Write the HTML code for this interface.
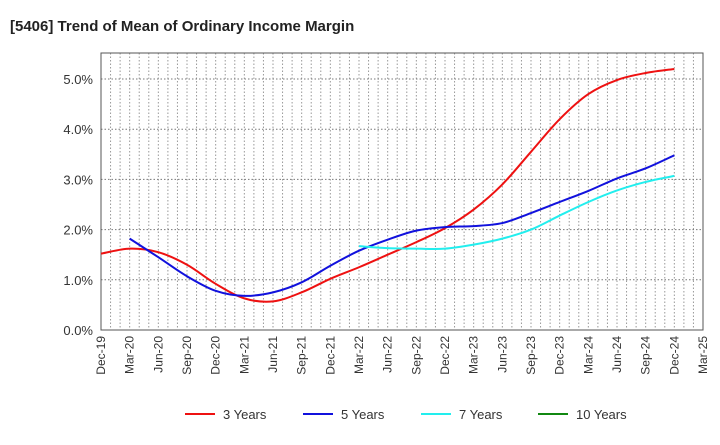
<!DOCTYPE html>
<html><head><meta charset="utf-8"><style>
body{margin:0;background:#fff;font-family:"Liberation Sans",sans-serif}
</style></head><body>
<svg id="c" width="720" height="440" font-family="Liberation Sans, sans-serif">
<text x="10" y="31" font-size="15" font-weight="bold" fill="#222">[5406]  Trend of Mean of Ordinary Income Margin</text>
<g id="grid"></g><g id="axes"></g><g id="series"></g><g id="legend"></g>
</svg>
<script>
const xLabels=["Dec-19","Mar-20","Jun-20","Sep-20","Dec-20","Mar-21","Jun-21","Sep-21","Dec-21","Mar-22","Jun-22","Sep-22","Dec-22","Mar-23","Jun-23","Sep-23","Dec-23","Mar-24","Jun-24","Sep-24","Dec-24","Mar-25"];
const yTicks=[0,1,2,3,4,5];
const s3=[1.52,1.62,1.55,1.3,0.92,0.63,0.57,0.75,1.02,1.25,1.5,1.75,2.03,2.4,2.9,3.55,4.2,4.7,4.98,5.12,5.2];
const s5=[null,1.82,1.45,1.07,0.78,0.68,0.75,0.95,1.28,1.58,1.8,1.98,2.05,2.07,2.13,2.33,2.55,2.77,3.02,3.22,3.48];
const s7=[null,null,null,null,null,null,null,null,null,1.67,1.63,1.62,1.62,1.70,1.82,2.0,2.28,2.55,2.78,2.95,3.07];
const s10=[];
const L=101,R=703,T=53,B=330;
const xs=i=>L+(R-L)*i/(xLabels.length-1);
const ys=v=>B-(B-79)*v/5;
const NS="http://www.w3.org/2000/svg";
function mk(t,a,p){const e=document.createElementNS(NS,t);for(const k in a)e.setAttribute(k,a[k]);p.appendChild(e);return e;}
const g=document.getElementById('grid'),ax=document.getElementById('axes'),se=document.getElementById('series'),lg=document.getElementById('legend');
for(let m=1;m<(xLabels.length-1)*3;m++){const x=L+(R-L)*m/((xLabels.length-1)*3);const l=mk('line',{x1:x,x2:x,y1:T,y2:B,stroke:'#999','stroke-dasharray':'1.5,2','stroke-width':1},g);
}
yTicks.forEach(v=>{const y=ys(v);if(v>0){const l=mk('line',{x1:L,x2:R,y1:y,y2:y,stroke:'#777','stroke-dasharray':'1.5,2'},g);}
const t=mk('text',{x:L-8,y:y+5,'text-anchor':'end','font-size':13,fill:'#333'},ax);t.textContent=v.toFixed(1)+'%';
});
const f=mk('rect',{x:L,y:T,width:R-L,height:B-T,fill:'none',stroke:'#555','stroke-width':1},ax);

xLabels.forEach((s,i)=>{const x=xs(i);const t=mk('text',{transform:`translate(${x+4},${B+6}) rotate(-90)`,'text-anchor':'end','font-size':12,fill:'#333'},ax);t.textContent=s;
});
function path(arr){const p=[];arr.forEach((v,i)=>{if(v!=null)p.push([xs(i),ys(v)]);});if(p.length<2)return'';
let d=`M${p[0][0]},${p[0][1]}`;for(let i=0;i<p.length-1;i++){const p0=p[i-1]||p[i],p1=p[i],p2=p[i+1],p3=p[i+2]||p2;
d+=`C${p1[0]+(p2[0]-p0[0])/6},${p1[1]+(p2[1]-p0[1])/6} ${p2[0]-(p3[0]-p1[0])/6},${p2[1]-(p3[1]-p1[1])/6} ${p2[0]},${p2[1]}`;}return d;}
const series=[[s3,'#ee1111','3 Years','series-3-years'],[s5,'#1111dd','5 Years','series-5-years'],[s7,'#22eeee','7 Years','series-7-years'],[s10,'#118811','10 Years','series-10-years']];
const lx=[185,303,421,538];
series.forEach((s,k)=>{const d=path(s[0]);if(d){const e=mk('path',{d:d,fill:'none',stroke:s[1],'stroke-width':2},se);}
const l=mk('line',{x1:lx[k],x2:lx[k]+30,y1:414,y2:414,stroke:s[1],'stroke-width':2},lg);
const t=mk('text',{x:lx[k]+38,y:419,'font-size':13,fill:'#333'},lg);t.textContent=s[2];});
</script>
</body></html>
